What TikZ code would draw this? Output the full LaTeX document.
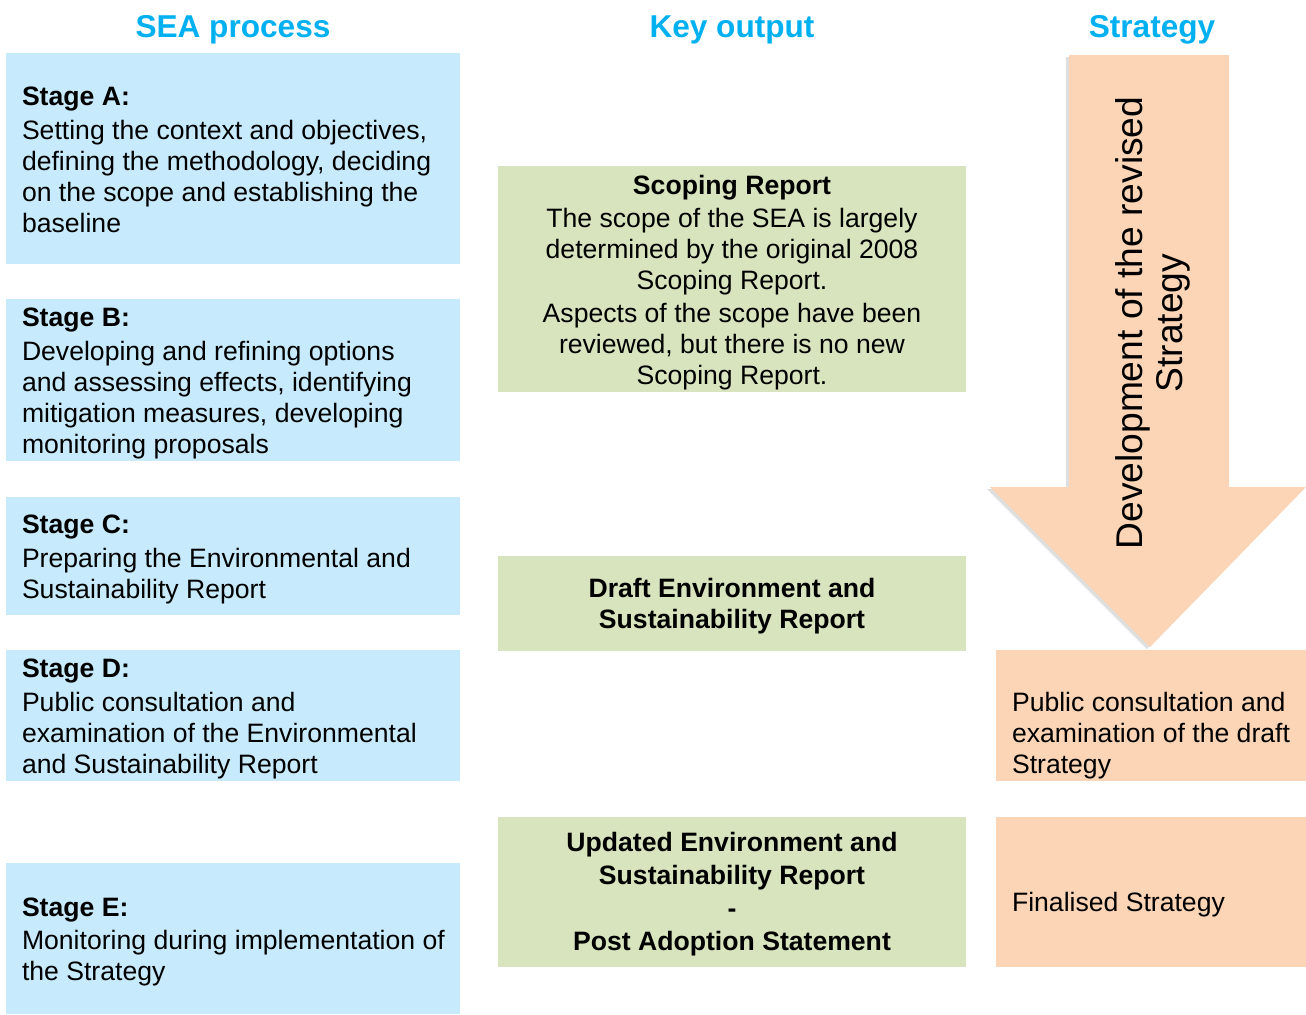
\documentclass[tikz,border=0pt]{standalone}
\usepackage{fontspec}
\setmainfont{Liberation Sans}
\usetikzlibrary{shadows}
\definecolor{seablue}{RGB}{0,176,240}
\definecolor{stagefill}{RGB}{199,235,252}
\definecolor{outputfill}{RGB}{215,228,189}
\definecolor{strategyfill}{RGB}{251,213,181}
\tikzset{
  heading/.style={font=\fontsize{15.8pt}{18pt}\selectfont\bfseries,text=seablue},
  stagebox/.style={fill=stagefill,minimum width=227pt,inner sep=0pt},
  outbox/.style={fill=outputfill,minimum width=234pt,inner sep=0pt},
  stratbox/.style={fill=strategyfill,minimum width=155pt,inner sep=0pt},
  boxtext/.style={anchor=west,align=left,inner sep=0pt,font=\fontsize{13.3pt}{15.5pt}\selectfont},
  outtext/.style={align=center,inner sep=0pt,font=\fontsize{13.3pt}{15.5pt}\selectfont},
}
\begin{document}
\begin{tikzpicture}[x=0.5pt,y=-0.5pt]
		\useasboundingbox (0,0) rectangle (1306,1014);
		% column headings
		\node[heading] (hsea) at (233,30) {SEA process};
		\node[heading] (hkey) at (732,30) {Key output};
		\node[heading] (hstrat) at (1152,30) {Strategy};
		% SEA stages
		\node[stagebox,minimum height=105.5pt] (stA) at (233,158.5) {};
		\node[boxtext] (stAt) at ([xshift=8pt,yshift=-0.75pt]stA.west) {\textbf{Stage A:}\\[1.25pt]Setting the context and objectives,\\defining the methodology, deciding\\on the scope and establishing the\\baseline};
		\node[stagebox,minimum height=81pt] (stB) at (233,380) {};
		\node[boxtext] (stBt) at ([xshift=8pt,yshift=-1.75pt]stB.west) {\textbf{Stage B:}\\[1.25pt]Developing and refining options\\and assessing effects, identifying\\mitigation measures, developing\\monitoring proposals};
		\node[stagebox,minimum height=59pt] (stC) at (233,556) {};
		\node[boxtext] (stCt) at ([xshift=8pt,yshift=-1.75pt]stC.west) {\textbf{Stage C:}\\[1.25pt]Preparing the Environmental and\\Sustainability Report};
		\node[stagebox,minimum height=65.5pt] (stD) at (233,715.5) {};
		\node[boxtext] (stDt) at ([xshift=8pt,yshift=-1.75pt]stD.west) {\textbf{Stage D:}\\[1.25pt]Public consultation and\\examination of the Environmental\\and Sustainability Report};
		\node[stagebox,minimum height=75.5pt] (stE) at (233,938.5) {};
		\node[boxtext] (stEt) at ([xshift=8pt,yshift=-1.75pt]stE.west) {\textbf{Stage E:}\\[1.25pt]Monitoring during implementation of\\the Strategy};
		% key outputs
		\node[outbox,minimum height=113pt] (scoping) at (732,279) {};
		\node[outtext] (scopingt) at ([yshift=-2pt]scoping.center) {\textbf{Scoping Report}\\[1pt]The scope of the SEA is largely\\determined by the original 2008\\Scoping Report.\\[1pt]Aspects of the scope have been\\reviewed, but there is no new\\Scoping Report.};
		\node[outbox,minimum height=47.5pt] (draft) at (732,603.5) {};
		\node[outtext] (draftt) at ([yshift=-1.5pt]draft.center) {\textbf{Draft Environment and}\\\textbf{Sustainability Report}};
		\node[outbox,minimum height=75pt] (updated) at (732,892) {};
		\node[outtext] (updatedt) at ([yshift=-1pt]updated.center) {\textbf{Updated Environment and}\\[1pt]\textbf{Sustainability Report}\\[1pt]\textbf{-}\\[1pt]\textbf{Post Adoption Statement}};
		% strategy
		\fill[strategyfill,drop shadow={shadow xshift=-1.5pt,shadow yshift=-1pt,opacity=.25}]
			(1069,55)--(1229,55)--(1229,487)--(1306,487)--(1150,647)--(990,487)--(1069,487)--cycle;
		\node[rotate=90,align=center,inner sep=0pt,font=\fontsize{18.6pt}{20pt}\selectfont] (devtext) at (1153,323) {Development of the revised\\Strategy};
		\node[stratbox,minimum height=65.5pt] (consult) at (1151,715.5) {};
		\node[boxtext] (consultt) at ([xshift=8pt,yshift=-10pt]consult.west) {Public consultation and\\examination of the draft\\Strategy};
		\node[stratbox,minimum height=75pt] (final) at (1151,892) {};
		\node[boxtext] (finalt) at ([xshift=8pt,yshift=-6.5pt]final.west) {Finalised Strategy};
	    \end{tikzpicture}
\end{document}
